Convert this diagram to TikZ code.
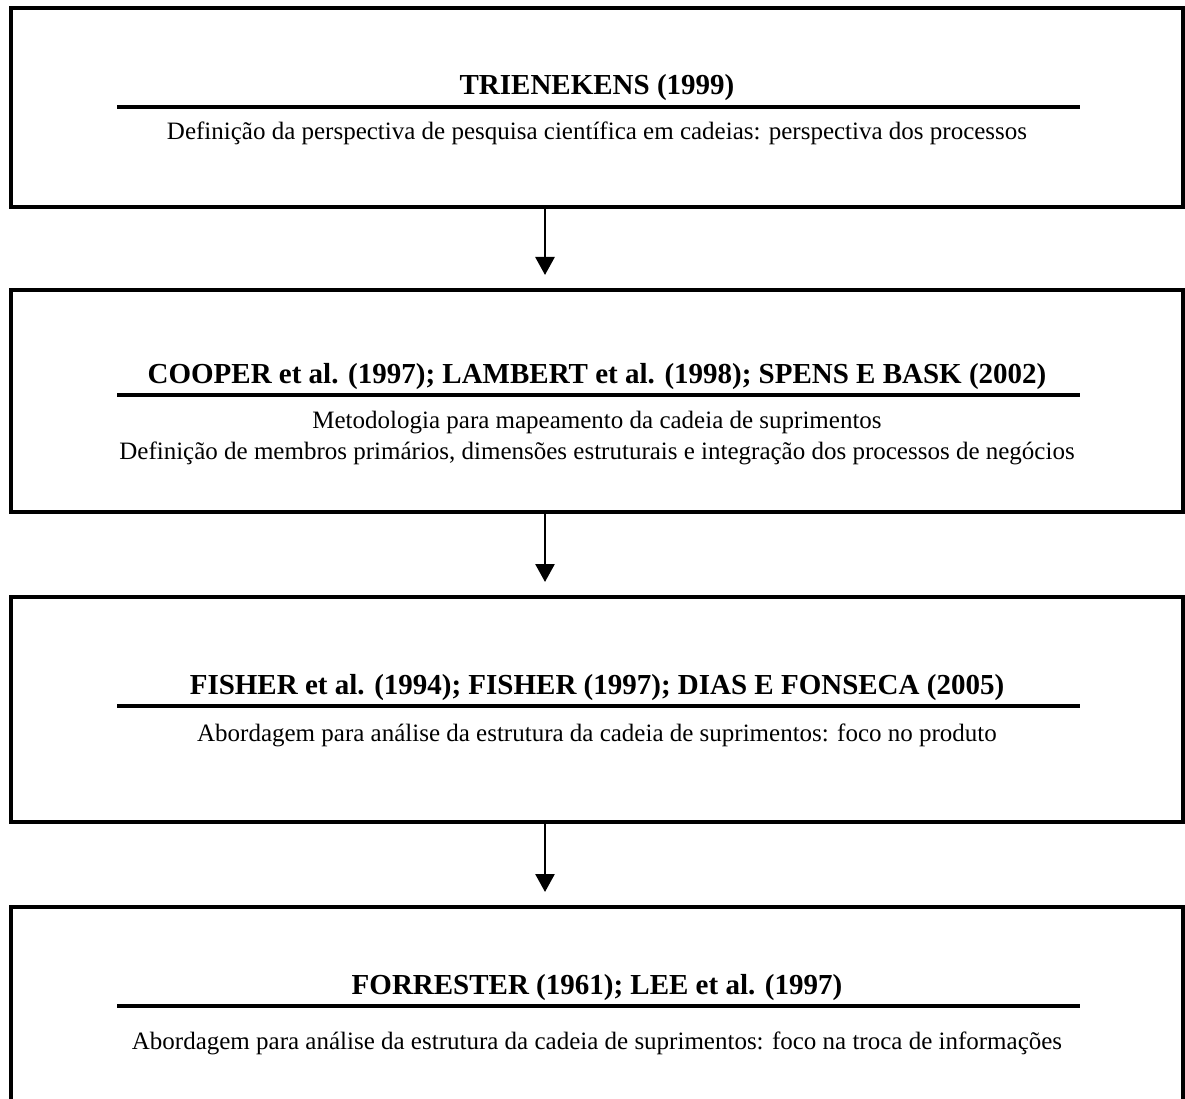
\documentclass[tikz,border=0pt]{standalone}
\usepackage{fontspec}
\setmainfont{Liberation Serif}
\usetikzlibrary{arrows.meta}
\begin{document}
\begin{tikzpicture}[x=1pt,y=-1pt,
  frame/.style={draw=black,line width=4pt,minimum width=1172pt,inner sep=0pt,outer sep=0pt},
  openframe/.style={minimum width=1172pt,inner sep=0pt,outer sep=0pt},
  heading/.style={anchor=base,inner sep=0pt,font=\fontsize{29}{34}\selectfont\bfseries},
  body/.style={anchor=base,inner sep=0pt,font=\fontsize{25}{30}\selectfont},
  rule/.style={line width=4.5pt},
  arr/.style={line width=2.7pt,-{Triangle[width=19pt,length=18pt]}}]
\useasboundingbox (0,0) rectangle (1185,1099);

% frames
\node[frame,minimum height=199pt] (b1) at (597,107.5) {};
\node[frame,minimum height=222pt] (b2) at (597,401) {};
\node[frame,minimum height=225pt] (b3) at (597,709.5) {};
\node[openframe,minimum height=203pt] (b4) at (597,1008.5) {};
\draw[line width=4pt] (b4.south west) -- (b4.north west) -- (b4.north east) -- (b4.south east);

% frame 1
\node[heading] (t1) at (597,95) {TRIENEKENS (1999)};
\draw[rule] (117,107) -- (1080,107);
\node[body] (d1) at (597,140) {Definição da perspectiva de pesquisa científica em cadeias: perspectiva dos processos};

% frame 2
\node[heading] (t2) at (597,383) {COOPER et al. (1997); LAMBERT et al. (1998); SPENS E BASK (2002)};
\draw[rule] (117,395) -- (1080,395);
\node[body] (d2a) at (597,428) {Metodologia para mapeamento da cadeia de suprimentos};
\node[body] (d2b) at (597,459) {Definição de membros primários, dimensões estruturais e integração dos processos de negócios};

% frame 3
\node[heading] (t3) at (597,694) {FISHER et al. (1994); FISHER (1997); DIAS E FONSECA (2005)};
\draw[rule] (117,706) -- (1080,706);
\node[body] (d3) at (597,741) {Abordagem para análise da estrutura da cadeia de suprimentos: foco no produto};

% frame 4
\node[heading] (t4) at (597,994) {FORRESTER (1961); LEE et al. (1997)};
\draw[rule] (117,1006) -- (1080,1006);
\node[body] (d4) at (597,1049) {Abordagem para análise da estrutura da cadeia de suprimentos: foco na troca de informações};

% connectors
\coordinate (ax) at (545,0);
\draw[arr,shorten >=15pt] (b1.south -| ax) -- (b2.north -| ax);
\draw[arr,shorten >=15pt] (b2.south -| ax) -- (b3.north -| ax);
\draw[arr,shorten >=15pt] (b3.south -| ax) -- (b4.north -| ax);
\end{tikzpicture}
\end{document}
